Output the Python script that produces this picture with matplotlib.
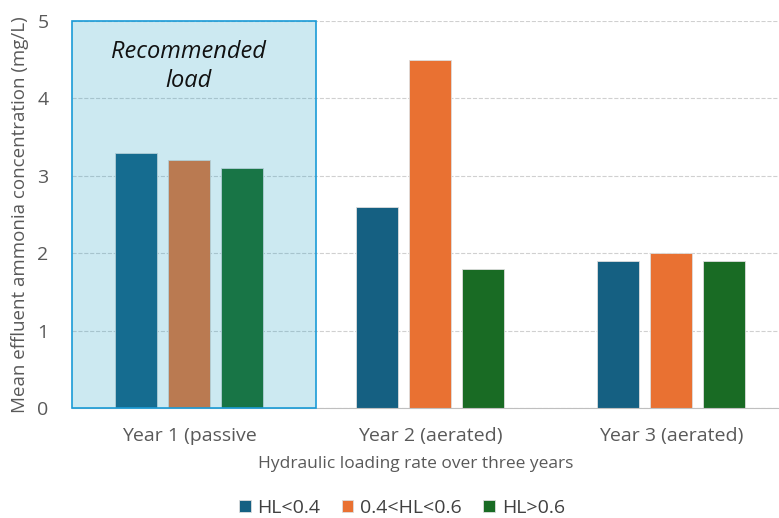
import numpy as np
import matplotlib.pyplot as plt
from matplotlib.patches import Rectangle

years = ["Year 1 (passive", "Year 2 (aerated)", "Year 3 (aerated)"]
series = ["HL<0.4", "0.4<HL<0.6", "HL>0.6"]
hl_low = [3.3, 2.6, 1.9]
hl_mid = [3.2, 4.5, 2.0]
hl_high = [3.1, 1.8, 1.9]
colors = ["#156082", "#E97132", "#196B24"]

plt.rcParams['font.family'] = ['Open Sans', 'DejaVu Sans']

fig = plt.figure(figsize=(7.79, 5.18), dpi=100)
ax = fig.add_axes([72 / 779, 1 - 408 / 518, 707 / 779, 387 / 518])

x = np.arange(len(years))
width = 0.174
step = 0.22
for i, (vals, name) in enumerate(zip([hl_low, hl_mid, hl_high], series)):
    ax.bar(x + (i - 1) * step, vals, width, color=colors[i], label=name,
           edgecolor='#dddddd', linewidth=0.6, zorder=2)

# shaded "recommended" region over year 1
ax.add_patch(Rectangle((-0.485, 0), 1.012, 5, facecolor='#179BC3', alpha=0.22,
                       edgecolor='none', zorder=3))
ax.add_patch(Rectangle((-0.485, 0), 1.012, 5, facecolor='none',
                       edgecolor='#1A9BD7', linewidth=1.2, zorder=4, clip_on=False))
ax.text(0.0, 4.41, "Recommended\nload", style='italic', fontsize=17, ha='center',
        va='center', color='#111111', zorder=5, linespacing=1.3)

ax.set_xlim(-0.485, 2.448)
ax.set_ylim(0, 5)
ax.set_yticks(range(6))
ax.grid(axis='y', linestyle='--', color='#d0d0d0', linewidth=0.8, zorder=0)
ax.set_xticks(x)
ax.set_xticklabels(years)
ax.tick_params(axis='x', length=0, labelsize=14, labelcolor='#595959', pad=14)
ax.tick_params(axis='y', length=0, labelsize=14, labelcolor='#595959', pad=17)
for s in ['top', 'right', 'left']:
    ax.spines[s].set_visible(False)
ax.spines['bottom'].set_color('#bfbfbf')

ax.set_xlabel("Hydraulic loading rate over three years", fontsize=12.5, color='#595959')
ax.xaxis.set_label_coords((416 - 72) / 707, -(456 - 408) / 387)
ax.set_ylabel("Mean effluent ammonia concentration (mg/L)", fontsize=13.5, color='#595959', labelpad=6)

ax.legend(loc='center', bbox_to_anchor=(402 / 779, 1 - 508 / 518), bbox_transform=fig.transFigure,
          ncol=3, frameon=False, fontsize=14, handlelength=0.6, handleheight=0.6,
          handletextpad=0.35, columnspacing=1.1, labelcolor='#404040')

fig.savefig("out.png", dpi=100)
